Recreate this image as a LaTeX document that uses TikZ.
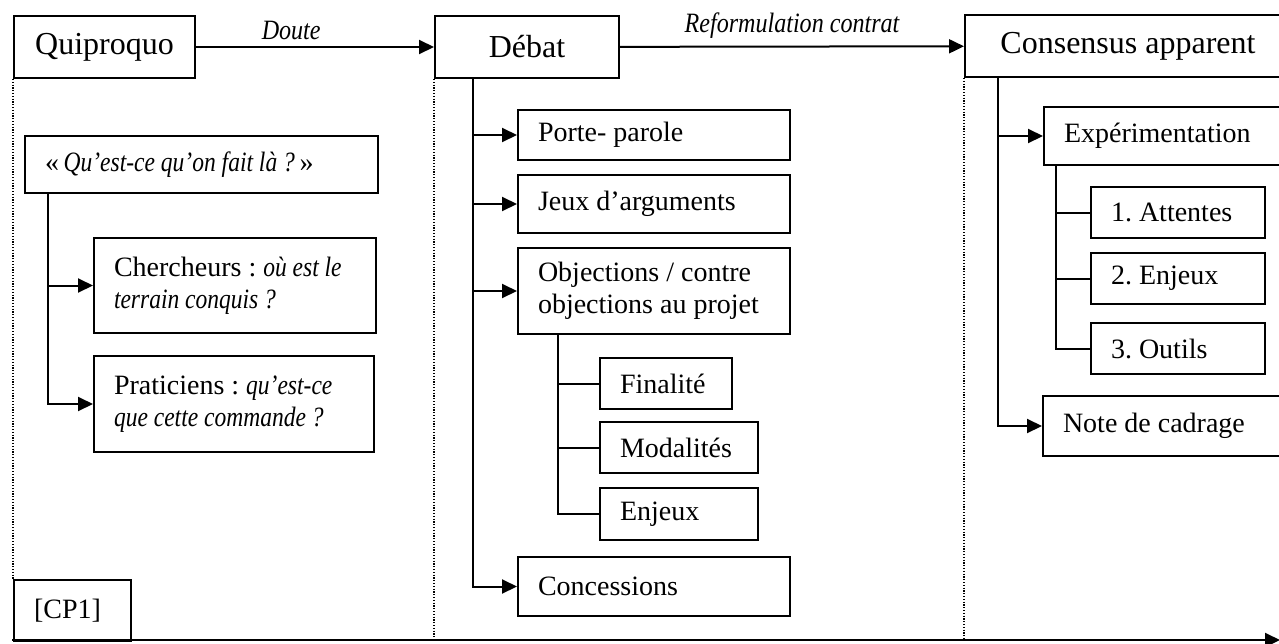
\documentclass[tikz,border=0pt]{standalone}
\usepackage{fontspec}
\setmainfont{Liberation Serif}
\newfontfamily\garfam[FakeStretch=0.86]{Liberation Serif}
\newfontfamily\garbox[FakeStretch=0.84]{Liberation Serif}
\newcommand{\itx}[1]{{\garbox\itshape #1}}
\frenchspacing
\usetikzlibrary{arrows.meta}

\tikzset{
    head/.style={draw, line width=1pt, anchor=north west, inner sep=0pt, align=center, font=\fontsize{16}{19}\selectfont},
    bx/.style={draw, line width=1pt, anchor=north west, inner xsep=10pt, inner ysep=0pt, align=flush left, font=\fontsize{14}{16}\selectfont},
    lbl/.style={font=\fontsize{14}{16}\selectfont\garfam\itshape},
    arr/.style={line width=1pt, -{Triangle[length=7.5pt,width=7pt]}},
    ln/.style={line width=1pt},
    sep/.style={line width=0.6pt, dash pattern=on 0.6pt off 0.8pt}
}

\begin{document}
\begin{tikzpicture}[x=0.5pt, y=-0.5pt]
    \useasboundingbox (0,0) rectangle (1279,643);

    \node[head, minimum width=90.5pt, minimum height=31pt] (qui) at (13,15) {Quiproquo};
    \node[head, minimum width=92pt, minimum height=31pt] (deb) at (434,15) {Débat};
    \node[head, minimum width=163pt, minimum height=31pt] (cons) at (964,14) {Consensus apparent};

    \draw[arr] (qui) -- (deb) node[pos=0.4, above, lbl]{Doute};
    \draw[arr] (deb) -- (cons) node[midway, above, lbl]{Reformulation contrat};

    \node[bx, text width=156.5pt, minimum height=28.5pt] (quest) at (24,135) {«\,\itx{Qu’est-ce qu’on fait là ?}\,»};
    \node[bx, text width=121pt, minimum height=47.5pt] (cherch) at (93,237) {Chercheurs : \itx{où est le}\\\itx{terrain conquis ?}};
    \node[bx, text width=120pt, minimum height=48pt] (prat) at (93,355) {Praticiens : \itx{qu’est-ce}\\\itx{que cette commande ?}};
    \node[bx, text width=38.5pt, minimum height=30.5pt] (cp) at (13,579) {[CP1]};

    \draw[arr] ([xshift=12pt]quest.south west) |- (cherch.west);
    \draw[arr] ([xshift=12pt]quest.south west) |- (prat.west);

    \node[bx, text width=116pt, minimum height=25pt] (porte) at (517,109) {Porte- parole};
    \node[bx, text width=116pt, minimum height=29pt] (jeux) at (517,174) {Jeux d’arguments};
    \node[bx, text width=116pt, minimum height=43pt] (obj) at (517,247) {Objections / contre\\objections au projet};
    \node[bx, text width=46pt, minimum height=25.5pt] (fin) at (599,357) {Finalité};
    \node[bx, text width=59pt, minimum height=25.5pt] (moda) at (599,421) {Modalités};
    \node[bx, text width=59pt, minimum height=26pt] (enj) at (599,487) {Enjeux};
    \node[bx, text width=116pt, minimum height=29.5pt] (conc) at (517,556) {Concessions};

    \draw[arr] ([xshift=19.5pt]deb.south west) |- (porte.west);
    \draw[arr] ([xshift=19.5pt]deb.south west) |- (jeux.west);
    \draw[arr] ([xshift=19.5pt]deb.south west) |- (obj.west);
    \draw[arr] ([xshift=19.5pt]deb.south west) |- (conc.west);
    \draw[ln] ([xshift=20.5pt]obj.south west) |- (fin.west);
    \draw[ln] ([xshift=20.5pt]obj.south west) |- (moda.west);
    \draw[ln] ([xshift=20.5pt]obj.south west) |- (enj.west);

    \node[bx, text width=110pt, minimum height=29pt] (expe) at (1043,106) {Expérimentation};
    \node[bx, text width=67pt, minimum height=25.5pt] (att) at (1090,186) {1. Attentes};
    \node[bx, text width=67pt, minimum height=25.5pt] (enjb) at (1090,252) {2. Enjeux};
    \node[bx, text width=67pt, minimum height=25.5pt] (outi) at (1090,322) {3. Outils};
    \node[bx, text width=110pt, minimum height=30pt] (note) at (1042,395) {Note de cadrage};

    \draw[arr] ([xshift=17pt]cons.south west) |- (expe.west);
    \draw[arr] ([xshift=17pt]cons.south west) |- (note.west);
    \draw[ln] ([xshift=6.5pt]expe.south west) |- (att.west);
    \draw[ln] ([xshift=6.5pt]expe.south west) |- (enjb.west);
    \draw[ln] ([xshift=6.5pt]expe.south west) |- (outi.west);

    \coordinate (tl) at (12,640);
    \coordinate (tr) at (1280,640);
    \draw[arr] (tl) -- (tr);

    \draw[sep] (qui.south west) -- (cp.north west);
    \draw[sep] (deb.south west) -- (deb.south west |- tl);
    \draw[sep] (cons.south west) -- (cons.south west |- tl);
\end{tikzpicture}
\end{document}
